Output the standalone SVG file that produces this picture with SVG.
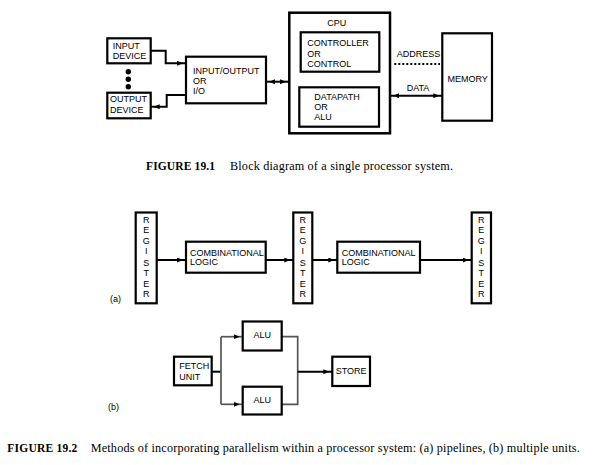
<svg xmlns="http://www.w3.org/2000/svg" width="598" height="465" viewBox="0 0 598 465">
<defs>
<style>
.box{fill:#fff;stroke:#000;stroke-width:2.2}
.t{font-family:"Liberation Sans",Arial,sans-serif;font-size:9px;fill:#000}
.c{text-anchor:middle}
.ln{fill:none;stroke:#000;stroke-width:2}
.gl{fill:none;stroke:#555;stroke-width:1.7}
.cap{font-family:"Liberation Serif","Times New Roman",serif;font-size:11.5px;fill:#000}
.capn{font-size:12.2px}
.b{font-weight:bold}
</style>
<marker id="ah" markerUnits="userSpaceOnUse" markerWidth="10" markerHeight="5" refX="9" refY="2.5" orient="auto-start-reverse" viewBox="0 0 10 5">
<path d="M0,0 L6,2.5 L0,5 z" fill="#000"/>
</marker>
</defs>
<rect width="598" height="465" fill="#fff"/>

<g id="connectors">
<path class="ln" d="M150.7,50.7 H165.7 V63.3 H186" marker-end="url(#ah)"/>
<path class="ln" d="M186,95 H166.7 V106.7 H150.7" marker-end="url(#ah)"/>
<path class="ln" d="M266,81.7 H289" marker-start="url(#ah)" marker-end="url(#ah)"/>
<path class="ln" d="M390,95.7 H442.3" marker-start="url(#ah)" marker-end="url(#ah)"/>
<path fill="none" stroke="#000" stroke-width="2" stroke-dasharray="2,2" d="M394.3,64 H440"/>
<path class="ln" d="M156.7,260 H186" marker-end="url(#ah)"/>
<path class="ln" d="M265.7,260 H293.3" marker-end="url(#ah)"/>
<path class="ln" d="M312.3,260 H337.3" marker-end="url(#ah)"/>
<path class="ln" d="M420,260 H471.7" marker-end="url(#ah)"/>
<path class="ln" d="M211.7,371.7 H221"/>
<path class="gl" d="M221,336.7 V404.3"/>
<path class="gl" d="M221,336.7 H242.7" marker-end="url(#ah)"/>
<path class="gl" d="M221,404.3 H242.7" marker-end="url(#ah)"/>
<path class="gl" d="M281.7,336.7 H297.7 V404.3 H281.7"/>
<path class="ln" d="M297.7,371.7 H332.3" marker-end="url(#ah)"/>
</g>

<g id="dots">
<circle cx="128.3" cy="71.7" r="2.7"/>
<circle cx="128.3" cy="79.2" r="2.7"/>
<circle cx="128.3" cy="86.7" r="2.7"/>
</g>

<g id="input-device">
<rect class="box" x="107.3" y="38.3" width="43.4" height="25"/>
<text class="t" x="112.7" y="49">INPUT</text>
<text class="t" x="112.7" y="59">DEVICE</text>
</g>
<g id="output-device">
<rect class="box" x="107.3" y="92.7" width="43.4" height="25.6"/>
<text class="t" x="110" y="101.7">OUTPUT</text>
<text class="t" x="110" y="112.7">DEVICE</text>
</g>
<g id="io">
<rect class="box" x="186" y="56.7" width="80" height="46.6"/>
<text class="t" x="193" y="74">INPUT/OUTPUT</text>
<text class="t" x="193" y="83.5">OR</text>
<text class="t" x="193" y="94">I/O</text>
</g>
<g id="cpu">
<rect class="box" x="289.3" y="12.7" width="100.7" height="120.6" style="stroke-width:2.5"/>
<text class="t c" x="336.7" y="25.7">CPU</text>
</g>
<g id="controller">
<rect class="box" x="300.7" y="32.3" width="78.6" height="39.4"/>
<text class="t" x="307.3" y="45.7">CONTROLLER</text>
<text class="t" x="307.3" y="56.7">OR</text>
<text class="t" x="307.3" y="66.7">CONTROL</text>
</g>
<g id="datapath">
<rect class="box" x="299.3" y="87.3" width="79.7" height="39.4"/>
<text class="t" x="314.3" y="100">DATAPATH</text>
<text class="t" x="314.3" y="110">OR</text>
<text class="t" x="314.3" y="120">ALU</text>
</g>
<g id="memory">
<rect class="box" x="442.3" y="33.3" width="49.7" height="87.4"/>
<text class="t c" x="467.7" y="81.7">MEMORY</text>
</g>
<g id="labels-top">
<text class="t" x="396.7" y="57.3">ADDRESS</text>
<text class="t" x="406.7" y="90.7">DATA</text>
</g>

<text class="cap b" x="146" y="170" textLength="69" lengthAdjust="spacing">FIGURE 19.1</text>
<text class="cap capn" x="230" y="170" textLength="223" lengthAdjust="spacing">Block diagram of a single processor system.</text>

<g id="register1">
<rect class="box" x="135.7" y="212.5" width="21" height="90.8"/>
<text class="t c"><tspan x="146.2" y="222.5">R</tspan><tspan x="146.2" y="233">E</tspan><tspan x="146.2" y="243.5">G</tspan><tspan x="146.2" y="254">I</tspan><tspan x="146.2" y="265.5">S</tspan><tspan x="146.2" y="276">T</tspan><tspan x="146.2" y="286.5">E</tspan><tspan x="146.2" y="297">R</tspan></text>
</g>
<g id="comb1">
<rect class="box" x="186" y="241.7" width="79.7" height="31"/>
<text class="t" x="190" y="255.7">COMBINATIONAL</text>
<text class="t" x="190" y="265">LOGIC</text>
</g>
<g id="register2">
<rect class="box" x="293.3" y="212.5" width="19" height="90.8"/>
<text class="t c"><tspan x="302.8" y="222.5">R</tspan><tspan x="302.8" y="233">E</tspan><tspan x="302.8" y="243.5">G</tspan><tspan x="302.8" y="254">I</tspan><tspan x="302.8" y="265.5">S</tspan><tspan x="302.8" y="276">T</tspan><tspan x="302.8" y="286.5">E</tspan><tspan x="302.8" y="297">R</tspan></text>
</g>
<g id="comb2">
<rect class="box" x="337.3" y="241.7" width="82.7" height="31"/>
<text class="t" x="341.7" y="255.7">COMBINATIONAL</text>
<text class="t" x="341.7" y="265">LOGIC</text>
</g>
<g id="register3">
<rect class="box" x="471.7" y="212.5" width="19.3" height="90.8"/>
<text class="t c"><tspan x="481.3" y="222.5">R</tspan><tspan x="481.3" y="233">E</tspan><tspan x="481.3" y="243.5">G</tspan><tspan x="481.3" y="254">I</tspan><tspan x="481.3" y="265.5">S</tspan><tspan x="481.3" y="276">T</tspan><tspan x="481.3" y="286.5">E</tspan><tspan x="481.3" y="297">R</tspan></text>
</g>
<text class="t" x="110" y="301.7">(a)</text>

<g id="fetch">
<rect class="box" x="174" y="356.7" width="37.7" height="28.6"/>
<text class="t" x="179.3" y="369">FETCH</text>
<text class="t" x="179.3" y="380">UNIT</text>
</g>
<g id="alu1">
<rect class="box" x="242.7" y="321.5" width="39" height="29"/>
<text class="t c" x="262.2" y="338.3">ALU</text>
</g>
<g id="alu2">
<rect class="box" x="242.7" y="386.7" width="39" height="27.8"/>
<text class="t c" x="262.2" y="403.3">ALU</text>
</g>
<g id="store">
<rect class="box" x="332.3" y="356.7" width="37.7" height="29.3"/>
<text class="t c" x="351.2" y="374">STORE</text>
</g>
<text class="t" x="108" y="410">(b)</text>

<text class="cap b" x="7.3" y="452.3" textLength="70" lengthAdjust="spacing">FIGURE 19.2</text>
<text class="cap capn" x="90.7" y="452.3" textLength="489" lengthAdjust="spacing">Methods of incorporating parallelism within a processor system: (a) pipelines, (b) multiple units.</text>
</svg>
